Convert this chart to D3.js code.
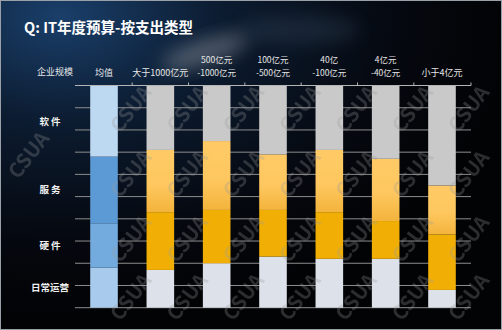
<!DOCTYPE html>
<html>
<head>
<meta charset="utf-8">
<script src="https://cdn.jsdelivr.net/npm/d3@7"></script>
<style>
  html, body { margin: 0; padding: 0; background: #04070c; }
  svg { display: block; }
  text { font-family: "Noto Sans CJK SC", "Noto Sans", sans-serif; }
</style>
</head>
<body>
<svg id="chart" width="502" height="330"></svg>
<script>
// Company-size groups shown along the top axis
const categories = ["均值", "大于1000亿元", "500亿元-1000亿元", "100亿元-500亿元", "40亿-100亿元", "4亿元-40亿元", "小于4亿元"];
// Spending types, stacked from bottom to top
const segments = ["日常运营", "硬件", "服务", "软件"];
const segmentLabels = ["日常运营", "硬 件", "服 务", "软 件"];
// Share of IT budget (%) per spending type
const opsShare      = [18, 17, 20, 23, 22, 22, 8];
const hardwareShare = [20, 26, 24, 21, 21, 17, 25];
const serviceShare  = [30, 28, 31, 25, 28, 28, 22];
const softwareShare = [32, 29, 25, 31, 29, 33, 45];
const gridTicks = [0, 10, 20, 30, 40, 50, 60, 70, 80, 90, 100];

const svg = d3.select("#chart");
const W = 502, H = 330;

const defs = svg.append("defs");

// Night-sky backdrop
const bg = defs.append("radialGradient").attr("id", "sky")
  .attr("cx", 0.12).attr("cy", 0.05).attr("r", 0.9);
bg.append("stop").attr("offset", "0%").attr("stop-color", "#1a3f6a");
bg.append("stop").attr("offset", "35%").attr("stop-color", "#0c1c31");
bg.append("stop").attr("offset", "75%").attr("stop-color", "#05080f");
bg.append("stop").attr("offset", "100%").attr("stop-color", "#020305");

const haze = defs.append("filter").attr("id", "haze")
  .attr("x", "-50%").attr("y", "-50%").attr("width", "200%").attr("height", "200%");
haze.append("feGaussianBlur").attr("stdDeviation", 9);

const svcGrad = defs.append("linearGradient").attr("id", "svcGrad")
  .attr("x1", 0).attr("y1", 0).attr("x2", 0).attr("y2", 1);
svcGrad.append("stop").attr("offset", "0%").attr("stop-color", "#ffca66");
svcGrad.append("stop").attr("offset", "55%").attr("stop-color", "#fec75f");
svcGrad.append("stop").attr("offset", "100%").attr("stop-color", "#f3b43c");

svg.append("rect").attr("width", W).attr("height", H).attr("fill", "url(#sky)");
// faint nebula glow behind the header
svg.append("ellipse").attr("cx", 205).attr("cy", 52).attr("rx", 45).attr("ry", 12)
  .attr("transform", "rotate(-18 205 52)")
  .attr("fill", "#c9ccd0").attr("opacity", 0.35).attr("filter", "url(#haze)");
svg.append("ellipse").attr("cx", 300).attr("cy", 30).attr("rx", 60).attr("ry", 14)
  .attr("fill", "#4a5e78").attr("opacity", 0.25).attr("filter", "url(#haze)");

// Scales
const x = d3.scaleBand().domain(categories).range([75, 471])
  .paddingInner(0.51).paddingOuter(0.27);
const y = d3.scaleLinear().domain([0, 100]).range([307.7, 85.5]);

// Horizontal grid
svg.append("g").selectAll("line").data(gridTicks).join("line")
  .attr("x1", 75).attr("x2", 471)
  .attr("y1", d => y(d)).attr("y2", d => y(d))
  .attr("stroke", "#8d8d8d").attr("stroke-width", 1);

// Stacked bars
const rows = categories.map((c, i) => ({
  cat: c, "日常运营": opsShare[i], "硬件": hardwareShare[i],
  "服务": serviceShare[i], "软件": softwareShare[i]
}));
const stack = d3.stack().keys(segments)(rows);

const orangeFill = { "日常运营": "#dde1e9", "硬件": "#f1af06", "服务": "url(#svcGrad)", "软件": "#c9c9c9" };
const blueFill   = { "日常运营": "#a8caec", "硬件": "#73abdf", "服务": "#5b9ad5", "软件": "#bdd8f1" };

svg.append("g").selectAll("g").data(stack).join("g")
  .selectAll("rect").data(s => s.map(d => ({ key: s.key, d })))
  .join("rect")
  .attr("x", o => x(o.d.data.cat))
  .attr("width", x.bandwidth())
  .attr("y", o => y(o.d[1]))
  .attr("height", o => y(o.d[0]) - y(o.d[1]))
  .attr("fill", o => o.d.data.cat === categories[0] ? blueFill[o.key] : orangeFill[o.key]);

// Top axis with category labels
const topAxis = svg.append("g").attr("transform", `translate(0,${y(100)})`);
topAxis.append("line").attr("x1", 75).attr("x2", 471).attr("y1", 0).attr("y2", 0)
  .attr("stroke", "#b5b5b5").attr("stroke-width", 1);
const boundaries = categories.slice(1).map(c => x(c) - x.step() * x.paddingInner() / 2).concat([471]);
topAxis.selectAll("line.tick").data(boundaries).join("line").attr("class", "tick")
  .attr("x1", d => d).attr("x2", d => d).attr("y1", 0).attr("y2", -3)
  .attr("stroke", "#b5b5b5");

const header = svg.append("g");
categories.forEach(c => {
  const parts = c.split("-");
  const cx = x(c) + x.bandwidth() / 2;
  const lines = parts.length > 1 ? [parts[0], "-" + parts[1]] : [c];
  if (lines.length === 1) {
    header.append("text").attr("x", cx).attr("y", 76).attr("text-anchor", "middle")
      .attr("fill", "#e6e6e6").attr("font-size", 9).text(lines[0]);
  } else {
    lines.forEach((ln, k) => {
      header.append("text").attr("x", cx).attr("y", 62.5 + k * 13.5)
        .attr("text-anchor", "middle").attr("fill", "#e6e6e6")
        .attr("font-size", 8.5).text(ln);
    });
  }
});
header.append("text").attr("x", 55).attr("y", 75).attr("text-anchor", "middle")
  .attr("fill", "#e6e6e6").attr("font-size", 9).text("企业规模");

// Spending-type labels, centred on the average bar's segments
const avg = stack.map(s => (s[0][0] + s[0][1]) / 2);
svg.append("g").selectAll("text").data(segments).join("text")
  .attr("x", 50).attr("y", (d, i) => y(avg[i]) + 3.5)
  .attr("text-anchor", "middle").attr("fill", "#f0f0f0")
  .attr("font-size", 9.5).attr("font-weight", "bold")
  .text((d, i) => segmentLabels[i]);

// Title
svg.append("text").attr("x", 24).attr("y", 33)
  .attr("fill", "#ffffff").attr("font-size", 14.5).attr("font-weight", "bold")
  .text("Q: IT年度预算-按支出类型");

// Repeating CSUA watermark, laid along the gaps between bars
const gapX = categories.slice(1).map(c => x(c) - x.step() * x.paddingInner() / 2).concat([470]);
const wmRows = [110, 175, 240, 298];
const wmSpots = [];
wmRows.forEach(wy => gapX.forEach(wx => wmSpots.push([wx, wy])));
wmSpots.push([30, 156]);
svg.append("g").attr("pointer-events", "none")
  .selectAll("text").data(wmSpots).join("text")
  .attr("x", d => d[0]).attr("y", d => d[1])
  .attr("transform", d => `rotate(-52 ${d[0]} ${d[1]})`)
  .attr("text-anchor", "middle").attr("dominant-baseline", "middle")
  .attr("font-size", 20).attr("font-weight", "bold")
  .attr("fill", "#9a9a9a").attr("opacity", 0.28)
  .attr("font-family", "Liberation Sans, Arial, sans-serif")
  .text("CSUA");

// thin frame
svg.append("rect").attr("x", 0.5).attr("y", 0.5).attr("width", W - 1).attr("height", H - 1)
  .attr("fill", "none").attr("stroke", "#9aa0a8").attr("stroke-width", 1);
</script>
</body>
</html>
